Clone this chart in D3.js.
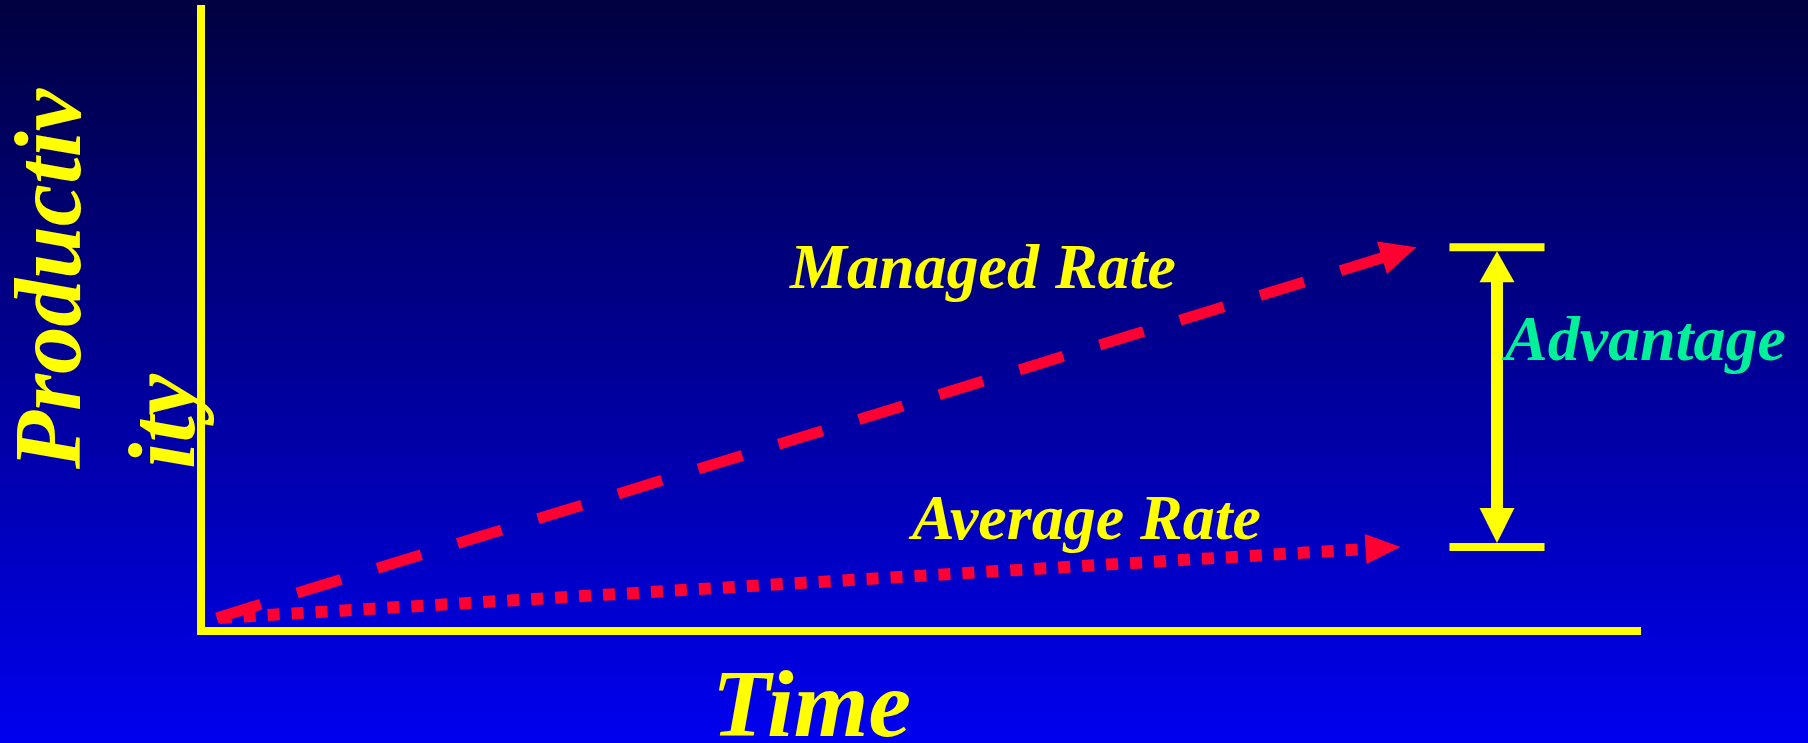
<!DOCTYPE html>
<html>
<head>
<meta charset="utf-8">
<script src="https://cdn.jsdelivr.net/npm/d3@7"></script>
<style>
  html, body { margin: 0; padding: 0; background: #000040; }
  svg { display: block; }
  .lbl { font-family: "Liberation Serif", "Times New Roman", serif; font-style: italic; font-weight: bold; }
</style>
</head>
<body>
<svg id="chart"></svg>
<script>

// chart values (time %, productivity %)
var managedTime = [1.1, 84.4];
var managedRate = [2.1, 61.6];
var averageTime = [1.3, 83.3];
var averageRate = [2.1, 13.5];
var advantageTime = 90;
var advantageSpan = [13.5, 61.6];
var advantageBar = [86.7, 93.3];

var W = 1808, H = 743;

var svg = d3.select('#chart').attr('width', W).attr('height', H);

// background gradient
var grad = svg.append('defs').append('linearGradient')
  .attr('id', 'bg').attr('x1', 0).attr('y1', 0).attr('x2', 0).attr('y2', 1);
grad.append('stop').attr('offset', '0%').attr('stop-color', '#00003f');
grad.append('stop').attr('offset', '100%').attr('stop-color', '#0000f0');
svg.append('rect').attr('width', W).attr('height', H).attr('fill', 'url(#bg)');

var x = d3.scaleLinear().domain([0, 100]).range([201, 1641]);
var y = d3.scaleLinear().domain([0, 100]).range([631, 8]);

var yellow = '#ffff00', red = '#ff0033';

// axes
svg.append('line')
  .attr('x1', x(0)).attr('x2', x(0))
  .attr('y1', y(100) - 3).attr('y2', y(0) + 4)
  .attr('stroke', yellow).attr('stroke-width', 8);
svg.append('line')
  .attr('x1', x(0) - 4).attr('x2', x(100))
  .attr('y1', y(0)).attr('y2', y(0))
  .attr('stroke', yellow).attr('stroke-width', 8);

// draws a line ending with a filled triangle head
function arrow(xs, ys, len, half, dash, width, color) {
  var x0 = x(xs[0]), y0 = y(ys[0]), x1 = x(xs[1]), y1 = y(ys[1]);
  var a = Math.atan2(y1 - y0, x1 - x0);
  var bx = x1 - len * Math.cos(a), by = y1 - len * Math.sin(a);
  svg.append('line')
    .attr('x1', x0).attr('y1', y0).attr('x2', bx + Math.cos(a)).attr('y2', by + Math.sin(a))
    .attr('stroke', color).attr('stroke-width', width)
    .attr('stroke-dasharray', dash);
  var px = -Math.sin(a) * half, py = Math.cos(a) * half;
  svg.append('path')
    .attr('d', 'M' + x1 + ',' + y1 + 'L' + (bx + px) + ',' + (by + py) + 'L' + (bx - px) + ',' + (by - py) + 'Z')
    .attr('fill', color);
}

arrow(managedTime, managedRate, 36, 17, '46 38', 11, red);
arrow(averageTime, averageRate, 35, 15, '12 12', 12, red);

// advantage bracket
advantageSpan.forEach(function(v) {
  svg.append('line')
    .attr('x1', x(advantageBar[0])).attr('x2', x(advantageBar[1]))
    .attr('y1', y(v)).attr('y2', y(v))
    .attr('stroke', yellow).attr('stroke-width', 8);
});
var ax = x(advantageTime);
var topY = y(advantageSpan[1]) + 4, botY = y(advantageSpan[0]) - 4;
svg.append('line')
  .attr('x1', ax).attr('x2', ax).attr('y1', topY + 30).attr('y2', botY - 34)
  .attr('stroke', yellow).attr('stroke-width', 12);
svg.append('path')
  .attr('d', 'M' + ax + ',' + topY + 'L' + (ax + 17.5) + ',' + (topY + 31) + 'L' + (ax - 17.5) + ',' + (topY + 31) + 'Z')
  .attr('fill', yellow);
svg.append('path')
  .attr('d', 'M' + ax + ',' + botY + 'L' + (ax + 17.5) + ',' + (botY - 35) + 'L' + (ax - 17.5) + ',' + (botY - 35) + 'Z')
  .attr('fill', yellow);

// labels
svg.append('text').attr('class', 'lbl')
  .attr('x', 790).attr('y', 288).attr('font-size', 64).attr('fill', yellow)
  .text('Managed Rate');
svg.append('text').attr('class', 'lbl')
  .attr('x', 912).attr('y', 539).attr('font-size', 64).attr('fill', yellow)
  .text('Average Rate');
svg.append('text').attr('class', 'lbl')
  .attr('x', 1505).attr('y', 360).attr('font-size', 64).attr('fill', '#00f09a')
  .text('Advantage');
svg.append('text').attr('class', 'lbl')
  .attr('x', 712).attr('y', 736).attr('font-size', 96).attr('fill', yellow)
  .text('Time');

// y label wraps on two lines
[['Productiv', 80], ['ity', 194]].forEach(function(d) {
  svg.append('text').attr('class', 'lbl')
    .attr('transform', 'translate(' + d[1] + ',469) rotate(-90)')
    .attr('font-size', 95).attr('fill', yellow)
    .text(d[0]);
});

</script>
</body>
</html>
